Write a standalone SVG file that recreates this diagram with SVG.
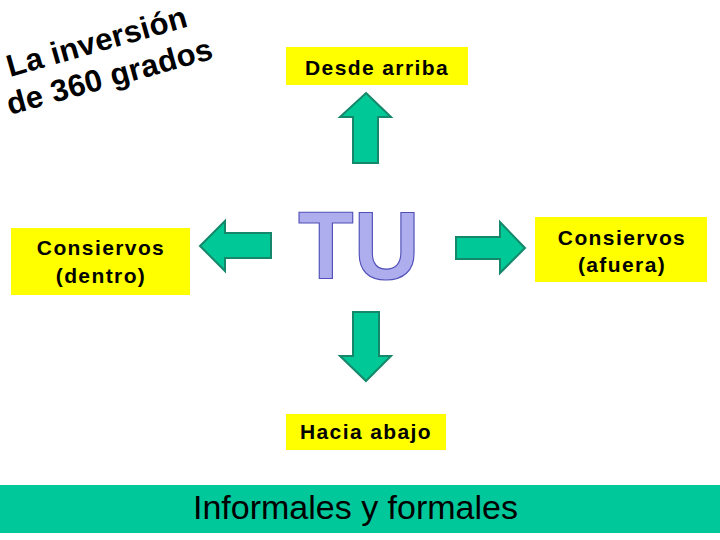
<svg xmlns="http://www.w3.org/2000/svg" width="720" height="540" viewBox="0 0 720 540">
<style>
.box{fill:#FFFF00}
.lbl{font-family:"Liberation Sans",Arial,sans-serif;font-weight:bold;font-size:21px;letter-spacing:1.4px;fill:#000}
.title{font-family:"Liberation Sans",Arial,sans-serif;font-weight:bold;font-size:31px;letter-spacing:0.3px;fill:#000}
.arrow{fill:#00C896;stroke:#15876A;stroke-width:2;stroke-linejoin:miter}
</style>
<rect x="0" y="0" width="720" height="540" fill="#FFFFFF"/>
<g id="title">
<text class="title" transform="translate(10,77) rotate(-15.8)">La inversión</text>
<text class="title" transform="translate(10,115) rotate(-15.5)">de 360 grados</text>
</g>
<g id="node-desde-arriba">
<rect class="box" x="286" y="47" width="182" height="38"/>
<text class="lbl" x="377" y="75" text-anchor="middle">Desde arriba</text>
</g>
<g id="node-tu">
<text transform="translate(298,279) scale(0.94,1)" font-family="Liberation Sans,Arial,sans-serif" font-weight="bold" font-size="97" fill="#AEAEEE" stroke="#5050B8" stroke-width="1.2">TU</text>
</g>
<g id="node-dentro">
<rect class="box" x="11" y="228" width="179" height="67"/>
<text class="lbl" x="101" y="255" text-anchor="middle">Consiervos</text>
<text class="lbl" x="101" y="283" text-anchor="middle">(dentro)</text>
</g>
<g id="node-afuera">
<rect class="box" x="535" y="217" width="172" height="65"/>
<text class="lbl" x="622" y="245" text-anchor="middle">Consiervos</text>
<text class="lbl" x="622" y="272" text-anchor="middle">(afuera)</text>
</g>
<g id="node-hacia-abajo">
<rect class="box" x="286" y="414" width="160" height="36"/>
<text class="lbl" x="366" y="439" text-anchor="middle">Hacia abajo</text>
</g>
<g id="node-informales">
<rect x="0" y="485" width="720" height="48" fill="#00C89B"/>
<text x="193" y="519" font-family="Liberation Sans,Arial,sans-serif" font-size="34" fill="#000">Informales y formales</text>
</g>
<g id="connectors">
<polygon class="arrow" points="366,93 391,117 378,117 378,163 353,163 353,117 340,117"/>
<polygon class="arrow" points="366,381 391,356 379,356 379,312 353,312 353,356 340,356"/>
<polygon class="arrow" points="200,246 225,221 225,233 271,233 271,258 225,258 225,271"/>
<polygon class="arrow" points="525,248 500,222 500,237 456,237 456,259 500,259 500,273"/>
</g>
</svg>
